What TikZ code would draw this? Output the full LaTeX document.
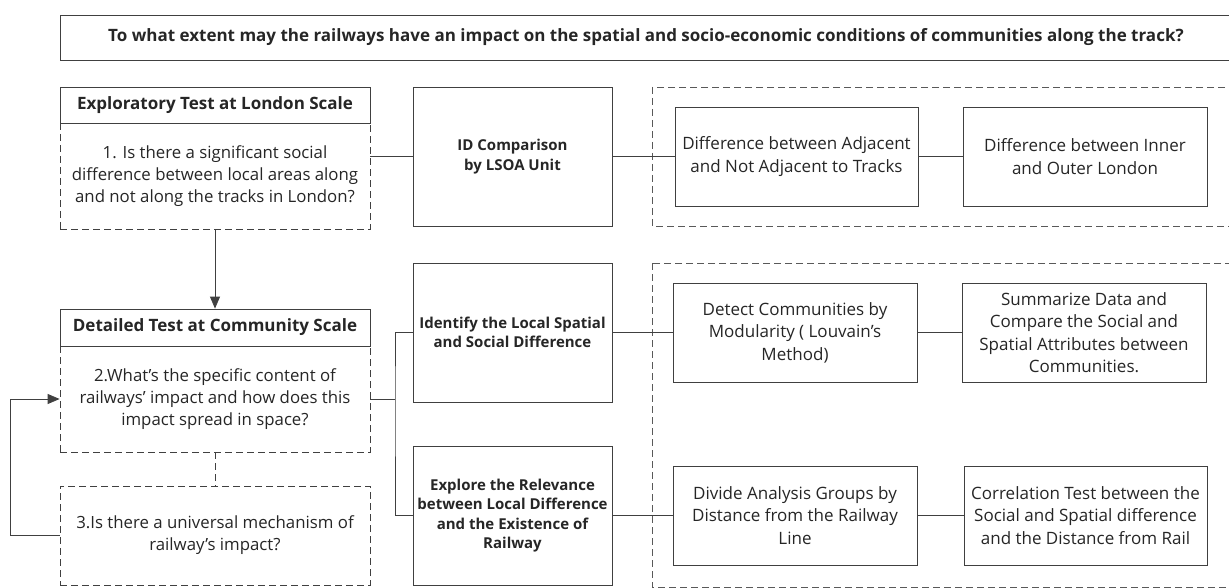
\documentclass[tikz,border=0pt]{standalone}
\usepackage{fontspec}
\setmainfont{Open Sans}
\usetikzlibrary{arrows.meta}
\tikzset{
box/.style={draw=black!75,line width=0.8pt,inner sep=0pt,align=center,text=black!85,
font=\fontsize{17}{22.5}\selectfont},
dashbox/.style={box,font=\fontsize{16.8}{22}\selectfont,dash pattern=on 7pt off 4pt},
headbox/.style={box,font=\fontsize{17}{20}\selectfont\bfseries},
stepbox/.style={box,font=\fontsize{15}{19.5}\selectfont\bfseries},
groupframe/.style={draw=black!65,line width=0.8pt,dash pattern=on 7pt off 4pt},
link/.style={draw=black!75,line width=0.8pt},
dashlink/.style={link,dash pattern=on 7pt off 4pt},
flowarrow/.style={link,-{Triangle[length=12pt,width=10pt]}}
}

\begin{document}
\begin{tikzpicture}[x=1pt,y=-1pt]
\fill[white] (0,0) rectangle (1229,588);
\useasboundingbox (0,0) rectangle (1229,588);

% research question
\node[box,minimum width=1172pt,minimum height=45pt,font=\fontsize{17}{18}\selectfont\bfseries] (rq) at (646,37.5)
{To what extent may the railways have an impact on the spatial and socio-economic conditions of communities along the track?};

% left column: the two scales and their questions
\node[headbox,minimum width=310pt,minimum height=36pt] (scaleA) at (215,105) {Exploratory Test at London Scale};
\node[dashbox,minimum width=310pt,minimum height=106pt] (qA) at (215,176)
{1. Is there a significant social\\difference between local areas along\\and not along the tracks in London?};
\node[headbox,minimum width=310pt,minimum height=37pt] (scaleB) at (215,327.5) {Detailed Test at Community Scale};
\node[dashbox,minimum width=310pt,minimum height=106pt] (qB) at (215,399)
{2.What's the specific content of\\railways' impact and how does this\\impact spread in space?};
\node[dashbox,minimum width=310pt,minimum height=99pt] (qC) at (215,535.5)
{3.Is there a universal mechanism of\\railway's impact?};

% middle column: methods
\node[stepbox,minimum width=199pt,minimum height=139pt] (idcomp) at (512.5,156.5) {ID Comparison\\by LSOA Unit};
\node[stepbox,minimum width=199pt,minimum height=139pt] (ident) at (512.5,332.5) {Identify the Local Spatial\\and Social Difference};
\node[stepbox,minimum width=199pt,minimum height=139pt] (explore) at (512.5,515.5)
{Explore the Relevance\\between Local Difference\\and the Existence of\\Railway};

% right column: steps inside dashed groups
\draw[groupframe] (652,87) rectangle (1234,226);
\draw[groupframe] (652,263) rectangle (1234,587);
\node[box,minimum width=243pt,minimum height=99pt] (adj) at (796.5,156.5) {Difference between Adjacent\\and Not Adjacent to Tracks};
\node[box,minimum width=244pt,minimum height=99pt] (inner) at (1085,156.5) {Difference between Inner\\and Outer London};
\node[box,minimum width=244pt,minimum height=99pt] (detect) at (795,332.5) {Detect Communities by\\Modularity ( Louvain's\\Method)};
\node[box,minimum width=244pt,minimum height=99pt] (summ) at (1084,332.5)
{Summarize Data and\\Compare the Social and\\Spatial Attributes between\\Communities.};
\node[box,minimum width=244pt,minimum height=99pt] (divide) at (795,515.5) {Divide Analysis Groups by\\Distance from the Railway\\Line};
\node[box,minimum width=243pt,minimum height=99pt] (corr) at (1085.5,515.5)
{Correlation Test between the\\Social and Spatial difference\\and the Distance from Rail};

% connectors
\coordinate (split) at (395,399);
\coordinate (loop) at (10,0);
\draw[link] (idcomp.west -| qA.east) -- (idcomp.west);
\draw[link] (idcomp.east) -- (adj.west);
\draw[link] (adj.east) -- (inner.west);
\draw[flowarrow] (qA.south) -- (scaleB.north);
\draw[link] (qB.east) -- (split);
\draw[link] (ident.west) -| (split) |- (explore.west);
\draw[link] (ident.east) -- (detect.west);
\draw[link] (detect.east) -- (summ.west);
\draw[link] (explore.east) -- (divide.west);
\draw[link] (divide.east) -- (corr.west);
\draw[dashlink] (qB.south) -- (qC.north);
\draw[flowarrow] (qC.west) -- (qC.west -| loop) |- (qB.west);
\end{tikzpicture}
\end{document}
